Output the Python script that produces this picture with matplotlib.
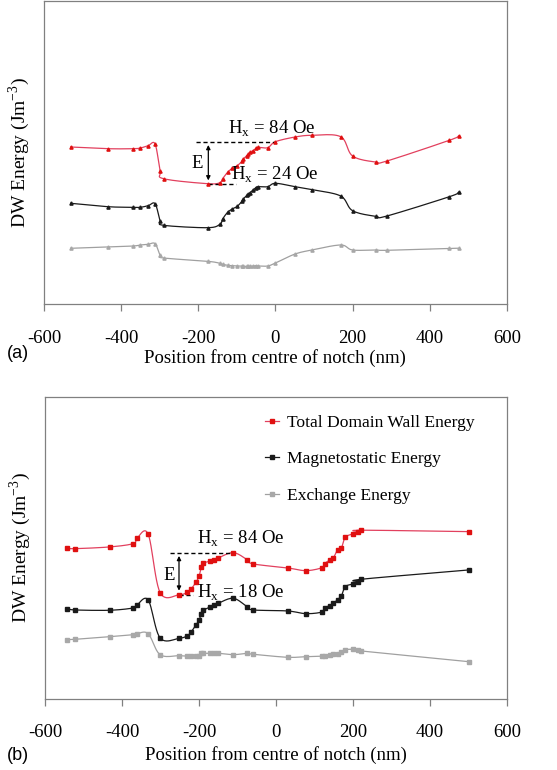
import numpy as np
import matplotlib
matplotlib.use("Agg")
import matplotlib.pyplot as plt

# ---------------- data (arbitrary energy units) ----------------
xa = [-531, -435, -369, -350, -330, -312, -299, -290, -176, -144, -137, -124, -112, -99, -86, -84,
      -74, -70, -66, -58, -51, -45, -20, 0, 51, 95, 169, 200, 260, 289, 451, 476]
total_a = [157.0, 155.3, 155.3, 156.0, 158.3, 160.0, 133.3, 125.3, 120.3, 121.3, 125.3, 131.7, 135.7,
           138.3, 143.0, 144.7, 148.3, 150.0, 151.7, 153.3, 155.7, 156.7, 156.3, 162.3, 167.0, 168.7,
           167.3, 148.0, 142.0, 143.0, 163.7, 168.3]
magneto_a = [100.7, 97.3, 96.7, 96.7, 98.3, 100.3, 83.3, 78.7, 76.3, 79.7, 85.0, 91.7, 95.0, 97.7,
             103.0, 104.7, 108.7, 109.7, 111.3, 114.0, 116.3, 117.3, 117.3, 120.7, 117.3, 114.3, 108.0,
             93.3, 87.7, 88.0, 107.3, 112.0]
exchange_a = [55.7, 57.0, 58.0, 59.0, 59.7, 60.3, 48.7, 46.0, 42.7, 40.7, 39.7, 38.7, 38.3, 38.0, 38.0,
              37.7, 37.7, 37.7, 37.7, 38.0, 38.3, 38.0, 38.0, 41.0, 50.0, 54.0, 59.0, 54.0, 54.0, 53.7,
              55.7, 55.7]

xb = [-542, -521, -432, -371, -361, -332, -301, -251, -230, -221, -208, -200, -194, -189, -172, -160,
      -150, -111, -75, -59, 30, 78, 120, 126, 140, 149, 160, 170, 180, 200, 214, 222, 501]
total_b = [150.7, 150.3, 152.0, 155.3, 160.7, 164.7, 106.3, 104.3, 106.7, 109.7, 116.7, 122.7, 131.7,
           135.7, 137.7, 139.3, 141.0, 146.3, 139.3, 135.0, 131.0, 128.3, 131.3, 135.3, 139.0, 141.0,
           149.3, 151.3, 161.7, 165.0, 167.0, 168.7, 167.3]
magneto_b = [90.3, 89.0, 88.7, 91.0, 94.0, 99.0, 61.0, 60.7, 63.3, 66.7, 74.0, 78.7, 85.3, 88.7, 91.7,
             94.0, 95.7, 100.7, 92.3, 89.0, 88.0, 85.3, 87.0, 91.3, 93.3, 95.7, 99.3, 103.3, 112.3,
             115.0, 117.0, 119.7, 129.0]
exchange_b = [59.3, 59.7, 62.3, 64.3, 65.3, 65.3, 44.3, 43.3, 42.7, 42.7, 43.0, 43.3, 45.7, 45.7, 45.7,
              45.7, 45.7, 44.3, 45.7, 44.7, 41.7, 42.3, 42.7, 43.3, 44.3, 44.7, 45.3, 46.7, 49.3, 49.7,
              49.0, 48.0, 37.3]

series_labels = ["Total Domain Wall Energy", "Magnetostatic Energy", "Exchange Energy"]
xticks = [-600, -400, -200, 0, 200, 400, 600]

# ---------------- style ----------------
plt.rcParams['font.family'] = ['Liberation Serif', 'DejaVu Serif']
plt.rcParams['mathtext.fontset'] = 'custom'
plt.rcParams['mathtext.rm'] = 'Liberation Serif'

RED_LINE = '#e2405e'
RED_MK = '#e01010'
BLACK = '#1a1a1a'
GRAY_LINE = '#a0a0a0'
GRAY_MK = '#a8a8a8'
AXC = '#808080'


def smooth(x, y, n=12):
    """Catmull-Rom style smoothing used only for drawing the connecting line."""
    x = np.asarray(x, float)
    y = np.asarray(y, float)
    px = np.concatenate([[2 * x[0] - x[1]], x, [2 * x[-1] - x[-2]]])
    py = np.concatenate([[2 * y[0] - y[1]], y, [2 * y[-1] - y[-2]]])
    outx, outy = [], []
    t = np.linspace(0, 1, n, endpoint=False)
    for i in range(1, len(px) - 2):
        p0, p1, p2, p3 = px[i - 1], px[i], px[i + 1], px[i + 2]
        q0, q1, q2, q3 = py[i - 1], py[i], py[i + 1], py[i + 2]
        a = 1.0 / 6.0
        mx1 = a * (p2 - p0); mx2 = a * (p3 - p1)
        my1 = a * (q2 - q0); my2 = a * (q3 - q1)
        b0x, b1x, b2x, b3x = p1, p1 + mx1, p2 - mx2, p2
        b0y, b1y, b2y, b3y = q1, q1 + my1, q2 - my2, q2
        bx = (1 - t) ** 3 * b0x + 3 * (1 - t) ** 2 * t * b1x + 3 * (1 - t) * t ** 2 * b2x + t ** 3 * b3x
        by = (1 - t) ** 3 * b0y + 3 * (1 - t) ** 2 * t * b1y + 3 * (1 - t) * t ** 2 * b2y + t ** 3 * b3y
        outx.extend(bx); outy.extend(by)
    outx.append(x[-1]); outy.append(y[-1])
    return np.array(outx), np.array(outy)


def draw_series(ax, x, y, lc, mc, marker, ms, label=None):
    sx, sy = smooth(x, y)
    ax.plot(sx, sy, color=lc, lw=0.9, zorder=2)
    ax.plot(x, y, linestyle='none', marker=marker, ms=ms, color=mc, mec=mc, zorder=3)
    if label is not None:
        ax.plot([], [], color=lc, lw=0.9, marker=marker, ms=ms, mfc=mc, mec=mc, label=label)


def style_axes(ax, ylim, tickpad, xlabelpad):
    ax.set_xlim(-600, 600)
    ax.set_ylim(*ylim)
    ax.set_xticks(xticks)
    ax.set_xticklabels([str(t) for t in xticks], fontsize=13.5)
    ax.set_yticks([])
    for s in ax.spines.values():
        s.set_color(AXC)
        s.set_linewidth(0.9)
    ax.tick_params(axis='x', direction='out', length=5, width=0.9, color=AXC, pad=tickpad)
    ax.set_xlabel("Position from centre of notch (nm)", fontsize=13.5, labelpad=xlabelpad)
    ax.set_ylabel(r"DW Energy (Jm$^{-3}$)", fontsize=14, labelpad=9)


fig = plt.figure(figsize=(5.57, 7.7), dpi=100)
axa = fig.add_axes([0.079, 0.6052, 0.831, 0.3935])
axb = fig.add_axes([0.0808, 0.0922, 0.8295, 0.392])

# ---- panel (a)
draw_series(axa, xa, total_a, RED_LINE, RED_MK, '^', 2.3)
draw_series(axa, xa, magneto_a, BLACK, BLACK, '^', 2.3)
draw_series(axa, xa, exchange_a, GRAY_LINE, GRAY_MK, '^', 2.3)
style_axes(axa, (0, 303), 14, 1)

axa.plot([-207, 0], [162.3, 162.3], ls='--', color='black', lw=1.0, dashes=(3, 2))
axa.plot([-176, -101], [120.3, 120.3], ls='--', color='black', lw=1.0, dashes=(3, 2))
axa.annotate('', xy=(-174, 120.8), xytext=(-174, 161.8),
             arrowprops=dict(arrowstyle='<|-|>', color='black', lw=0.9, mutation_scale=6))
axa.text(-203, 140, 'E', fontsize=13.5, ha='center', va='center')
axa.text(-122, 170.5, r'H$_\mathregular{x}$ = 84 Oe', fontsize=13.5, ha='left', va='baseline')
axa.text(-114, 124.5, r'H$_\mathregular{x}$ = 24 Oe', fontsize=13.5, ha='left', va='baseline')

# ---- panel (b)
draw_series(axb, xb, total_b, RED_LINE, RED_MK, 's', 2.4, series_labels[0])
draw_series(axb, xb, magneto_b, BLACK, BLACK, 's', 2.4, series_labels[1])
draw_series(axb, xb, exchange_b, GRAY_LINE, GRAY_MK, 's', 2.4, series_labels[2])
style_axes(axb, (0, 301.7), 13, 4)

axb.plot([-276, -111], [146.3, 146.3], ls='--', color='black', lw=1.0, dashes=(3, 2))
axb.plot([-252, -215], [104.3, 104.3], ls='--', color='black', lw=1.0, dashes=(3, 2))
axb.annotate('', xy=(-252, 105.5), xytext=(-252, 145.8),
             arrowprops=dict(arrowstyle='<|-|>', color='black', lw=0.9, mutation_scale=6))
axb.text(-278, 123.3, 'E', fontsize=13.5, ha='center', va='center')
axb.text(-206, 155, r'H$_\mathregular{x}$ = 84 Oe', fontsize=13.5, ha='left', va='baseline')
axb.text(-205, 101, r'H$_\mathregular{x}$ = 18 Oe', fontsize=13.5, ha='left', va='baseline')

leg = axb.legend(loc='upper left', bbox_to_anchor=(0.46, 0.965), frameon=False, fontsize=12.6,
                 handlelength=0.8, handletextpad=0.5, labelspacing=1.15, borderaxespad=0)

fig.text(7 / 557, 1 - 353 / 770, '(a)', fontsize=13, family=['Liberation Sans', 'DejaVu Sans'],
         ha='left', va='center')
fig.text(7 / 557, 1 - 755 / 770, '(b)', fontsize=13, family=['Liberation Sans', 'DejaVu Sans'],
         ha='left', va='center')

fig.savefig('out.png', dpi=100)
